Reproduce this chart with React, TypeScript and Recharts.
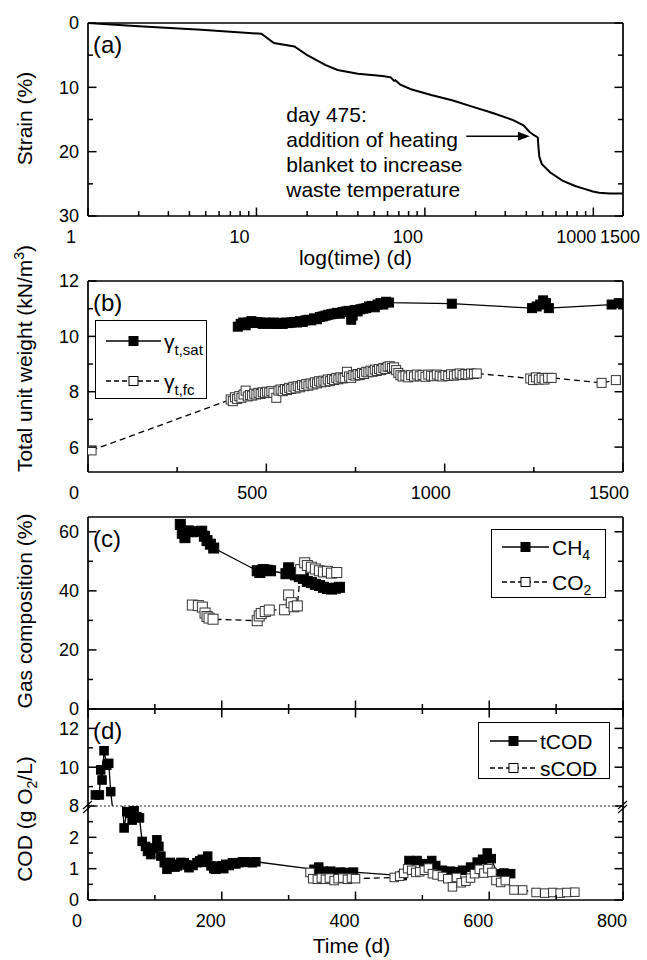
import React from "react"
import { LineChart, Line, XAxis, YAxis, ReferenceLine, Legend } from "recharts"

// (a) strain against log time
const strainDays = [1, 2, 4.7, 7, 10.7, 12.7, 16.8, 19.9, 25.6, 30.3, 40, 56, 62.6, 65.6, 66.8, 71.5, 82.7, 109, 145, 191, 253, 334, 385, 417, 442, 468, 473, 478, 494, 553, 655, 773, 865, 994, 1082, 1250, 1500]
const strainPct = [0, 0.5, 1.05, 1.35, 1.67, 3.1, 3.65, 4.95, 6.5, 7.3, 7.9, 8.25, 8.45, 9.0, 8.9, 9.6, 10.3, 11.2, 12.0, 13.0, 14.0, 15.1, 15.9, 16.9, 17.4, 17.8, 19.5, 20.8, 21.9, 23.2, 24.5, 25.3, 25.7, 26.2, 26.4, 26.5, 26.5]
const heatingDay = 475
const noteFromDay = 176
const noteToDay = 420
const noteStrain = 17.6

// (b) total unit weight
const satDays = [420, 428, 435, 442, 450, 458, 466, 474, 482, 490, 498, 506, 514, 522, 530, 538, 546, 554, 562, 570, 578, 586, 594, 602, 610, 618, 626, 634, 642, 650, 658, 666, 674, 682, 690, 698, 706, 714, 722, 730, 738, 742, 748, 756, 764, 772, 780, 788, 796, 804, 812, 820, 828, 836, 844, 1020, 1245, 1258, 1268, 1276, 1284, 1292, 1468, 1488]
const satWeight = [10.35, 10.45, 10.5, 10.4, 10.5, 10.55, 10.48, 10.52, 10.5, 10.45, 10.5, 10.48, 10.45, 10.5, 10.45, 10.48, 10.45, 10.5, 10.48, 10.5, 10.52, 10.5, 10.55, 10.52, 10.58, 10.6, 10.58, 10.65, 10.62, 10.7, 10.72, 10.75, 10.78, 10.8, 10.82, 10.85, 10.82, 10.88, 10.9, 10.92, 10.6, 10.75, 10.95, 10.9, 10.98, 11.0, 11.02, 11.08, 11.1, 11.05, 11.15, 11.2, 11.15, 11.25, 11.22, 11.18, 11.02, 11.08, 11.15, 11.3, 11.2, 11.02, 11.15, 11.2]
const fcDays = [
  10, 400, 406, 412, 418, 424, 430, 436, 442, 448,
  454, 460, 466, 472, 478, 484, 490, 496, 502, 508,
  514, 520, 528, 534, 540, 546, 552, 558, 564, 570,
  576, 582, 588, 594, 600, 606, 612, 618, 624, 630,
  636, 642, 648, 654, 660, 666, 672, 678, 684, 690,
  696, 702, 708, 714, 720, 726, 732, 738, 744, 750,
  756, 762, 768, 774, 780, 786, 792, 798, 804, 810,
  816, 822, 828, 834, 840, 846, 852, 858, 864, 870,
  876, 882, 890, 898, 906, 914, 922, 930, 938, 946,
  954, 962, 970, 978, 986, 994, 1002, 1010, 1018, 1026,
  1034, 1042, 1050, 1058, 1066, 1074, 1082, 1090, 1240, 1248,
  1256, 1264, 1272, 1280, 1290, 1300, 1440, 1480,
]
const fcWeight = [
  5.88, 7.72, 7.66, 7.8, 7.74, 7.84, 7.78, 7.9, 8.04, 7.83,
  7.88, 7.86, 7.93, 7.9, 7.96, 7.92, 7.98, 7.95, 8.0, 7.97,
  8.02, 7.96, 7.78, 8.04, 8.08, 8.02, 8.1, 8.06, 8.14, 8.1,
  8.18, 8.12, 8.2, 8.16, 8.24, 8.2, 8.28, 8.22, 8.3, 8.26,
  8.34, 8.3, 8.38, 8.34, 8.4, 8.36, 8.44, 8.38, 8.46, 8.42,
  8.5, 8.45, 8.52, 8.48, 8.5, 8.72, 8.55, 8.5, 8.6, 8.58,
  8.64, 8.6, 8.68, 8.64, 8.72, 8.7, 8.76, 8.72, 8.8, 8.75,
  8.82, 8.78, 8.86, 8.82, 8.9, 8.92, 8.86, 8.88, 8.78, 8.68,
  8.6, 8.55, 8.58, 8.52, 8.6, 8.55, 8.62, 8.56, 8.6, 8.54,
  8.62, 8.58, 8.56, 8.62, 8.58, 8.55, 8.6, 8.57, 8.63, 8.58,
  8.62, 8.66, 8.6, 8.64, 8.62, 8.66, 8.64, 8.66, 8.48, 8.42,
  8.52, 8.44, 8.5, 8.44, 8.5, 8.5, 8.32, 8.42,
]

// (c) gas composition
const ch4Days = [138, 141, 145, 150, 156, 170, 174, 178, 183, 188, 253, 257, 262, 268, 273, 296, 300, 304, 310, 316, 322, 328, 334, 340, 346, 352, 358, 364, 370, 376]
const ch4Pct = [62.5, 59.5, 58.0, 60.3, 60.0, 60.2, 58.5, 57.0, 55.8, 54.5, 46.8, 46.2, 47.2, 47.0, 46.8, 45.8, 47.8, 46.2, 45.4, 44.8, 44.2, 43.2, 42.8, 42.2, 41.8, 41.2, 40.8, 40.6, 40.9, 41.2]
const co2Days = [156, 165, 171, 175, 178, 181, 187, 253, 256, 259, 265, 271, 294, 300, 304, 308, 313, 318, 324, 328, 334, 340, 346, 352, 358, 364, 372]
const co2Pct = [35.2, 35.0, 34.5, 32.5, 31.3, 30.8, 30.4, 29.9, 31.5, 32.3, 33.0, 33.5, 33.6, 38.6, 36.0, 34.6, 34.9, 47.2, 49.5, 48.6, 48.0, 47.4, 46.8, 46.4, 46.6, 46.0, 46.2]

// (d) COD, axis broken between 3 and 8
const tcodDays = [
  11, 17, 19, 21, 24, 28, 31, 34, 54, 58,
  62, 66, 69, 73, 77, 81, 86, 89, 94, 98,
  103, 106, 109, 114, 118, 123, 126, 130, 134, 139,
  144, 148, 151, 157, 163, 167, 171, 175, 179, 184,
  188, 191, 195, 199, 203, 206, 211, 216, 221, 226,
  231, 236, 241, 246, 251, 338, 345, 352, 363, 370,
  377, 384, 391, 397, 470, 480, 492, 502, 514, 520,
  530, 542, 550, 560, 572, 582, 590, 597, 603, 612,
  622, 632,
]
const tcodVals = [
  8.57, 8.57, 9.86, 9.34, 10.85, 10.1, 10.2, 8.74, 2.3, 2.82,
  2.77, 2.55, 2.95, 2.66, 2.62, 1.87, 1.71, 1.55, 1.45, 1.66,
  1.92, 1.71, 1.4, 1.19, 0.98, 1.2, 1.14, 1.05, 1.09, 1.2,
  1.19, 1.12, 1.03, 1.1, 1.19, 1.25, 1.3, 1.2, 1.4, 1.09,
  1.0, 0.98, 1.05, 1.09, 1.0, 1.14, 1.1, 1.19, 1.15, 1.19,
  1.22, 1.22, 1.2, 1.19, 1.22, 0.98, 1.05, 0.92, 0.92, 0.85,
  0.89, 0.88, 0.84, 0.89, 0.78, 1.26, 1.26, 1.16, 1.26, 1.1,
  0.95, 0.92, 0.9, 0.95, 1.05, 1.21, 1.3, 1.5, 1.32, 0.84,
  0.86, 0.84,
]
const scodDays = [
  332, 336, 343, 349, 355, 361, 368, 374, 381, 388,
  394, 400, 458, 466, 472, 478, 484, 490, 496, 503,
  509, 515, 522, 530, 538, 545, 551, 558, 565, 572,
  578, 585, 592, 598, 604, 610, 617, 624, 637, 650,
  670, 683, 695, 706, 716, 728,
]
const scodVals = [
  0.88, 0.68, 0.66, 0.7, 0.66, 0.7, 0.62, 0.68, 0.7, 0.66,
  0.7, 0.68, 0.72, 0.76, 0.85, 1.0, 0.95, 0.88, 0.9, 0.95,
  1.02, 0.84, 0.8, 0.75, 0.68, 0.42, 0.72, 0.55, 0.6, 0.7,
  0.84, 0.98, 0.86, 1.0, 0.88, 0.62, 0.56, 0.62, 0.32, 0.32,
  0.24, 0.22, 0.24, 0.22, 0.24, 0.25,
]

// tick sets (major ones get labels and long marks)
const logTicks = [1, 2, 3, 4, 5, 6, 7, 8, 9, 10, 20, 30, 40, 50, 60, 70, 80, 90, 100, 200, 300, 400, 500, 600, 700, 800, 900, 1000, 1500]
const logMajor = [1, 10, 100, 1000]
const logLabels = [1, 10, 100, 1000, 1500]
const strainTicks = [0, 5, 10, 15, 20, 25, 30]
const strainMajor = [0, 10, 20, 30]
const longDayTicks = [0, 250, 500, 750, 1000, 1250, 1500]
const longDayMajor = [0, 500, 1000, 1500]
const weightTicks = [6, 7, 8, 9, 10, 11, 12]
const weightMajor = [6, 8, 10, 12]
const gasTicks = [0, 10, 20, 30, 40, 50, 60]
const gasMajor = [0, 20, 40, 60]
const dayTicks = [0, 100, 200, 300, 400, 500, 600, 700, 800]
const dayMajor = [0, 200, 400, 600, 800]
const codHighTicks = [8, 9, 10, 11, 12]
const codHighMajor = [8, 10, 12]
const codLowTicks = [0, 0.5, 1, 1.5, 2, 2.5]
const codLowMajor = [0, 1, 2]

const pairs = (xs: number[], ys: number[]) => xs.map((t, i) => ({ t, v: ys[i] }))
const strainData = pairs(strainDays, strainPct)
const satData = pairs(satDays, satWeight)
const fcData = pairs(fcDays, fcWeight)
const ch4Data = pairs(ch4Days, ch4Pct)
const co2Data = pairs(co2Days, co2Pct)
const tcodData = pairs(tcodDays, tcodVals)
const scodData = pairs(scodDays, scodVals)

const FONT = '"Liberation Sans", Arial, Helvetica, sans-serif'
const W = 647
// every frame axis takes 1px of room, so margins are one less than the gap
const MARGIN_R = 23
const AXIS_LINE = { stroke: "#000", strokeWidth: 1.7 }
const TICK_W = 1.5
const DASH = "6 4"

type Side = "top" | "bottom" | "left" | "right"
interface TickSpec {
  side: Side
  major: number[]
  labels?: number[]
  shift?: (v: number) => number
  breakAt?: number
}

// inward tick marks, labels outside the frame
function axisTick(spec: TickSpec) {
  return function Tick(props: any) {
    const x = Number(props.x)
    const y = Number(props.y)
    const v: number = props.payload.value
    const len = spec.major.includes(v) ? 8.5 : 5
    const label = spec.labels && spec.labels.includes(v) ? String(v) : null
    const dx = spec.shift ? spec.shift(v) : 0
    const brk =
      spec.breakAt === v ? (
        <path d={`M${x - 5} ${y + 3} L${x + 4} ${y - 5} M${x - 5} ${y + 7} L${x + 4} ${y - 1}`} stroke="#000" strokeWidth={1.2} />
      ) : null
    if (spec.side === "bottom")
      return (
        <g>
          <path d={`M${x} ${y} V${y - len}`} stroke="#000" strokeWidth={TICK_W} />
          {label !== null && (
            <text x={x + dx} y={y + 27} textAnchor="middle" fontSize={18} fill="#000">
              {label}
            </text>
          )}
        </g>
      )
    if (spec.side === "top") return <path d={`M${x} ${y} V${y + len}`} stroke="#000" strokeWidth={TICK_W} />
    if (spec.side === "right")
      return (
        <g>
          <path d={`M${x} ${y} H${x - len}`} stroke="#000" strokeWidth={TICK_W} />
          {brk}
        </g>
      )
    return (
      <g>
        <path d={`M${x} ${y} H${x + len}`} stroke="#000" strokeWidth={TICK_W} />
        {label !== null && (
          <text x={x - 9} y={y} dy="0.36em" textAnchor="end" fontSize={18} fill="#000">
            {label}
          </text>
        )}
        {brk}
      </g>
    )
  }
}

const yTitle = (content: React.ReactNode, shift = 0) =>
  function YTitle(props: any) {
    const vb = props.viewBox
    const cx = vb.x + 24
    const cy = vb.y + vb.height / 2 + shift
    return (
      <text x={cx} y={cy} transform={`rotate(-90 ${cx} ${cy})`} textAnchor="middle" dy="0.36em" fontSize={21} fill="#000">
        {content}
      </text>
    )
  }

const xTitle = (text: string, dy: number, dx = 0) =>
  function XTitle(props: any) {
    const vb = props.viewBox
    return (
      <text x={vb.x + vb.width / 2 + dx} y={vb.y + dy} textAnchor="middle" fontSize={21} fill="#000">
        {text}
      </text>
    )
  }

const panelTag = (tag: string) =>
  function PanelTag(props: any) {
    const vb = props.viewBox
    return (
      <text x={vb.x + 5} y={vb.y + vb.height + 30} fontSize={24} fill="#000">
        {tag}
      </text>
    )
  }

const squareDot = (filled: boolean, size = 9) =>
  function SquareDot(p: any) {
    if (p.cx == null || p.cy == null) return <g key={`d${p.index}`} />
    return (
      <rect
        key={`d${p.index}`}
        x={p.cx - size / 2}
        y={p.cy - size / 2}
        width={size}
        height={size}
        fill={filled ? "#000" : "#fff"}
        stroke={filled ? "#000" : "#333"}
        strokeWidth={1}
      />
    )
  }

function NoteArrow(props: any) {
  const { x1, y1, x2, y2 } = props
  const lines = [`day ${heatingDay}:`, "addition of heating", "blanket to increase", "waste temperature"]
  return (
    <g>
      <line x1={x1} y1={y1} x2={x2 - 9} y2={y2} stroke="#000" strokeWidth={1.5} />
      <polygon points={`${x2},${y2} ${x2 - 12},${y2 - 4.5} ${x2 - 12},${y2 + 4.5}`} fill="#000" />
      {lines.map((t, i) => (
        <text key={i} x={x1 - 180} y={y1 - 14.5 + i * 25.2} fontSize={21} fill="#000">
          {t}
        </text>
      ))}
    </g>
  )
}

interface LegendRow {
  label: React.ReactNode
  filled: boolean
  dashed: boolean
}

function LegendBox({ rows, width, height, rowY, sample }: { rows: LegendRow[]; width: number; height: number; rowY: number[]; sample: [number, number] }) {
  return (
    <div
      style={{
        position: "relative",
        width,
        height,
        boxSizing: "border-box",
        border: "1.4px solid #000",
        background: "#fff",
        fontFamily: FONT,
        fontSize: 21,
        color: "#000",
      }}
    >
      {rows.map((r, i) => (
        <div key={i} style={{ position: "absolute", left: 0, top: rowY[i], height: 0 }}>
          <svg width={sample[1] + 2} height={12} style={{ position: "absolute", left: 0, top: -6 }}>
            <line x1={sample[0]} x2={sample[1]} y1={6} y2={6} stroke="#000" strokeWidth={1.3} strokeDasharray={r.dashed ? "5 3" : undefined} />
            <rect x={(sample[0] + sample[1]) / 2 - 4.5} y={1.5} width={9} height={9} fill={r.filled ? "#000" : "#fff"} stroke="#000" strokeWidth={1} />
          </svg>
          <span style={{ position: "absolute", left: sample[1] + 3, top: -10.5, lineHeight: "21px", whiteSpace: "nowrap" }}>{r.label}</span>
        </div>
      ))}
    </div>
  )
}

const sub = (s: string, size = 14, drop = 5) => <span style={{ fontSize: size, position: "relative", top: drop }}>{s}</span>

const frame = { tickSize: 0, tickMargin: 0, tickLine: false, axisLine: AXIS_LINE, interval: 0 as const, allowDataOverflow: true }

function StrainPanel() {
  return (
    <LineChart width={W} height={272} margin={{ top: 22, right: MARGIN_R, bottom: 55, left: 0 }}>
      <XAxis {...frame} xAxisId="b" type="number" dataKey="t" scale="log" domain={[1, 1500]} ticks={logTicks} height={1}
        tick={axisTick({ side: "bottom", major: logMajor, labels: logLabels, shift: (v) => (v === 1500 ? -3 : -17) })} label={xTitle("log(time) (d)", 49)} />
      <XAxis {...frame} xAxisId="t" orientation="top" type="number" scale="log" domain={[1, 1500]} ticks={logTicks} height={1}
        tick={axisTick({ side: "top", major: logMajor })} label={panelTag("(a)")} />
      <YAxis {...frame} yAxisId="l" type="number" reversed domain={[0, 30]} ticks={strainTicks} width={88}
        tick={axisTick({ side: "left", major: strainMajor, labels: strainMajor })} label={yTitle("Strain (%)", -1)} />
      <YAxis {...frame} yAxisId="r" orientation="right" type="number" reversed domain={[0, 30]} ticks={strainTicks} width={1}
        tick={axisTick({ side: "right", major: strainMajor })} />
      <Line xAxisId="b" yAxisId="l" data={strainData} dataKey="v" type="linear" stroke="#000" strokeWidth={2} dot={false} activeDot={false} isAnimationActive={false} />
      <ReferenceLine xAxisId="b" yAxisId="l" segment={[{ x: noteFromDay, y: noteStrain }, { x: noteToDay, y: noteStrain }]} shape={NoteArrow} />
    </LineChart>
  )
}

function WeightPanel() {
  return (
    <LineChart width={W} height={274} margin={{ top: 44, right: MARGIN_R, bottom: 37, left: 0 }}>
      <XAxis {...frame} xAxisId="b" type="number" dataKey="t" domain={[0, 1500]} ticks={longDayTicks} height={1}
        tick={axisTick({ side: "bottom", major: longDayMajor, labels: longDayMajor, shift: () => -14 })} />
      <XAxis {...frame} xAxisId="t" orientation="top" type="number" domain={[0, 1500]} ticks={longDayTicks} height={1}
        tick={axisTick({ side: "top", major: longDayMajor })} label={panelTag("(b)")} />
      <YAxis {...frame} yAxisId="l" type="number" domain={[5.1, 12]} ticks={weightTicks} width={88}
        tick={axisTick({ side: "left", major: weightMajor, labels: weightMajor })}
        label={yTitle(<>Total unit weight (kN/m<tspan dy={-8} fontSize={14}>3</tspan><tspan dy={8}>)</tspan></>, -18)} />
      <YAxis {...frame} yAxisId="r" orientation="right" type="number" domain={[5.1, 12]} ticks={weightTicks} width={1}
        tick={axisTick({ side: "right", major: weightMajor })} />
      <Line xAxisId="b" yAxisId="l" name="sat" data={satData} dataKey="v" type="linear" stroke="#000" strokeWidth={1.3} dot={squareDot(true)} activeDot={false} isAnimationActive={false} />
      <Line xAxisId="b" yAxisId="l" name="fc" data={fcData} dataKey="v" type="linear" stroke="#000" strokeWidth={1.3} strokeDasharray={DASH} dot={squareDot(false)} activeDot={false} isAnimationActive={false} />
      <Legend layout="vertical" verticalAlign="middle" align="center" wrapperStyle={{ left: 95, top: 84, width: "auto" }}
        content={() => (
          <LegendBox width={112} height={79} rowY={[20, 60]} sample={[10, 65]}
            rows={[
              { label: <>γ{sub("t,sat", 15, 6)}</>, filled: true, dashed: false },
              { label: <>γ{sub("t,fc", 15, 6)}</>, filled: false, dashed: true },
            ]} />
        )} />
    </LineChart>
  )
}

function GasPanel() {
  return (
    <LineChart width={W} height={212} margin={{ top: 8, right: MARGIN_R, bottom: 10, left: 0 }}>
      <XAxis {...frame} xAxisId="b" type="number" dataKey="t" domain={[0, 800]} ticks={dayTicks} height={1}
        tick={axisTick({ side: "bottom", major: dayMajor })} />
      <XAxis {...frame} xAxisId="t" orientation="top" type="number" domain={[0, 800]} ticks={dayTicks} height={1}
        tick={axisTick({ side: "top", major: dayMajor })} label={panelTag("(c)")} />
      <YAxis {...frame} yAxisId="l" type="number" domain={[0, 65]} ticks={gasTicks} width={88}
        tick={axisTick({ side: "left", major: gasMajor, labels: gasMajor })} label={yTitle("Gas composition (%)", -2)} />
      <YAxis {...frame} yAxisId="r" orientation="right" type="number" domain={[0, 65]} ticks={gasTicks} width={1}
        tick={axisTick({ side: "right", major: gasMajor })} />
      <Line xAxisId="b" yAxisId="l" name="CH4" data={ch4Data} dataKey="v" type="linear" stroke="#000" strokeWidth={1.3} dot={squareDot(true, 10)} activeDot={false} isAnimationActive={false} />
      <Line xAxisId="b" yAxisId="l" name="CO2" data={co2Data} dataKey="v" type="linear" stroke="#000" strokeWidth={1.3} strokeDasharray={DASH} dot={squareDot(false, 10)} activeDot={false} isAnimationActive={false} />
      <Legend layout="vertical" verticalAlign="middle" align="center" wrapperStyle={{ left: 491, top: 21, width: "auto" }}
        content={() => (
          <LegendBox width={115} height={69} rowY={[17, 52]} sample={[10, 57]}
            rows={[
              { label: <>CH{sub("4")}</>, filled: true, dashed: false },
              { label: <>CO{sub("2")}</>, filled: false, dashed: true },
            ]} />
        )} />
    </LineChart>
  )
}

// upper part of the broken COD axis (8 to 13)
function CodHighPanel() {
  return (
    <LineChart width={W} height={112} margin={{ top: 5, right: MARGIN_R, bottom: 9, left: 0 }}>
      <XAxis {...frame} xAxisId="t" orientation="top" type="number" dataKey="t" domain={[0, 800]} ticks={dayTicks} height={1}
        tick={axisTick({ side: "top", major: dayMajor })} label={panelTag("(d)")} />
      <YAxis {...frame} yAxisId="l" type="number" domain={[8, 13]} ticks={codHighTicks} width={88}
        tick={axisTick({ side: "left", major: codHighMajor, labels: codHighMajor, breakAt: 8 })} />
      <YAxis {...frame} yAxisId="r" orientation="right" type="number" domain={[8, 13]} ticks={codHighTicks} width={1}
        tick={axisTick({ side: "right", major: codHighMajor, breakAt: 8 })} />
      <ReferenceLine xAxisId="t" yAxisId="l" y={8} stroke="#222" strokeWidth={1.2} strokeDasharray="2 2" />
      <Line xAxisId="t" yAxisId="l" name="tCOD" data={tcodData} dataKey="v" type="linear" stroke="#000" strokeWidth={1.3} dot={squareDot(true, 8.5)} activeDot={false} isAnimationActive={false} />
      <Line xAxisId="t" yAxisId="l" name="sCOD" data={scodData} dataKey="v" type="linear" stroke="#000" strokeWidth={1.3} strokeDasharray={DASH} dot={squareDot(false, 8.5)} activeDot={false} isAnimationActive={false} />
      <Legend layout="vertical" verticalAlign="middle" align="center" wrapperStyle={{ left: 478, top: 19, width: "auto" }}
        content={() => (
          <LegendBox width={132} height={57} rowY={[18, 45]} sample={[11, 58]}
            rows={[
              { label: "tCOD", filled: true, dashed: false },
              { label: "sCOD", filled: false, dashed: true },
            ]} />
        )} />
    </LineChart>
  )
}

// lower part of the broken COD axis (0 to 3)
function CodLowPanel() {
  return (
    <LineChart width={W} height={257} margin={{ top: 103, right: MARGIN_R, bottom: 59, left: 0 }}>
      <XAxis {...frame} xAxisId="b" type="number" dataKey="t" domain={[0, 800]} ticks={dayTicks} height={1}
        tick={axisTick({ side: "bottom", major: dayMajor, labels: dayMajor, shift: () => -11 })} label={xTitle("Time (d)", 53, -4)} />
      <YAxis {...frame} yAxisId="l" type="number" domain={[0, 3]} ticks={codLowTicks} width={88}
        tick={axisTick({ side: "left", major: codLowMajor, labels: codLowMajor })}
        label={yTitle(<>COD (g O<tspan dy={5} fontSize={14}>2</tspan><tspan dy={-5}>/L)</tspan></>, -34)} />
      <YAxis {...frame} yAxisId="r" orientation="right" type="number" domain={[0, 3]} ticks={codLowTicks} width={1}
        tick={axisTick({ side: "right", major: codLowMajor })} />
      <Line xAxisId="b" yAxisId="l" name="tCOD" data={tcodData} dataKey="v" type="linear" stroke="#000" strokeWidth={1.3} dot={squareDot(true, 8.5)} activeDot={false} isAnimationActive={false} />
      <Line xAxisId="b" yAxisId="l" name="sCOD" data={scodData} dataKey="v" type="linear" stroke="#000" strokeWidth={1.3} strokeDasharray={DASH} dot={squareDot(false, 8.5)} activeDot={false} isAnimationActive={false} />
    </LineChart>
  )
}

const place = (top: number, node: React.ReactNode) => <div style={{ position: "absolute", left: 0, top }}>{node}</div>

export default function App() {
  return (
    <div style={{ position: "absolute", left: 0, top: 0, width: W, height: 960, background: "#fff", fontFamily: FONT, color: "#000" }}>
      {place(0, <StrainPanel />)}
      {place(236, <WeightPanel />)}
      {place(508, <GasPanel />)}
      {place(703, <CodHighPanel />)}
      {place(703, <CodLowPanel />)}
    </div>
  )
}
